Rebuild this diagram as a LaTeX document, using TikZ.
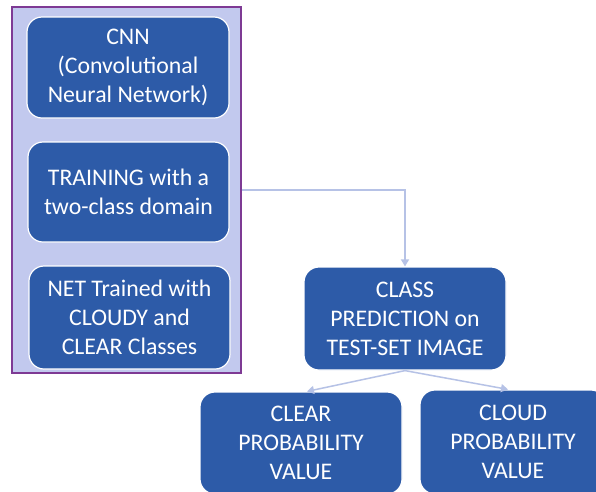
\documentclass[tikz,border=0pt]{standalone}
\usepackage{fontspec}
\setmainfont{Carlito}
\usetikzlibrary{arrows.meta}
\definecolor{boxblue}{HTML}{2D5BA8}
\definecolor{panel}{HTML}{C2C9EE}
\definecolor{panelborder}{HTML}{7E3A94}
\definecolor{conn}{HTML}{B6C2E6}
\tikzset{
  stepbox/.style={draw=white, line width=1.2pt, fill=boxblue, rounded corners=15pt,
    text=white, align=center, inner sep=0pt,
    font=\fontsize{23.8}{29}\selectfont},
  conline/.style={draw=conn, line width=1.5pt, -{Triangle[length=7pt,width=8pt]}}
}
\begin{document}
\begin{tikzpicture}[x=1pt,y=-1pt]
\useasboundingbox (0,0) rectangle (596,491);
\clip (0,0) rectangle (596,491);
\fill[white] (0,0) rectangle (596,491);
\node[draw=panelborder, fill=panel, line width=1.6pt, minimum width=229pt, minimum height=366pt, inner sep=0pt] (cont) at (126.5,190) {};
\node[stepbox, minimum width=202pt, minimum height=101pt] (cnn) at (128,67.5) {CNN\\(Convolutional\\Neural Network)};
\node[stepbox, minimum width=201pt, minimum height=100pt] (train) at (128.5,192) {TRAINING with a\\two-class domain};
\node[stepbox, minimum width=201pt, minimum height=103pt] (net) at (129.5,317.5) {NET Trained with\\CLOUDY and\\CLEAR Classes};
\node[stepbox, minimum width=202pt, minimum height=103pt] (class) at (405,318.5) {CLASS\\PREDICTION on\\TEST-SET IMAGE};
\node[stepbox, minimum width=202pt, minimum height=102pt] (clear) at (301,443) {CLEAR\\PROBABILITY\\VALUE};
\node[stepbox, minimum width=186pt, minimum height=104pt] (cloud) at (513,442) {CLOUD\\PROBABILITY\\VALUE};
\coordinate (turn) at (405,190);
\draw[conline] (cont.east |- turn) -- (turn) -- (class.north);
\draw[conline] (class.south) -- ([xshift=6pt]clear.north);
\draw[conline] (class.south) -- ([xshift=-5pt]cloud.north);
\end{tikzpicture}
\end{document}
